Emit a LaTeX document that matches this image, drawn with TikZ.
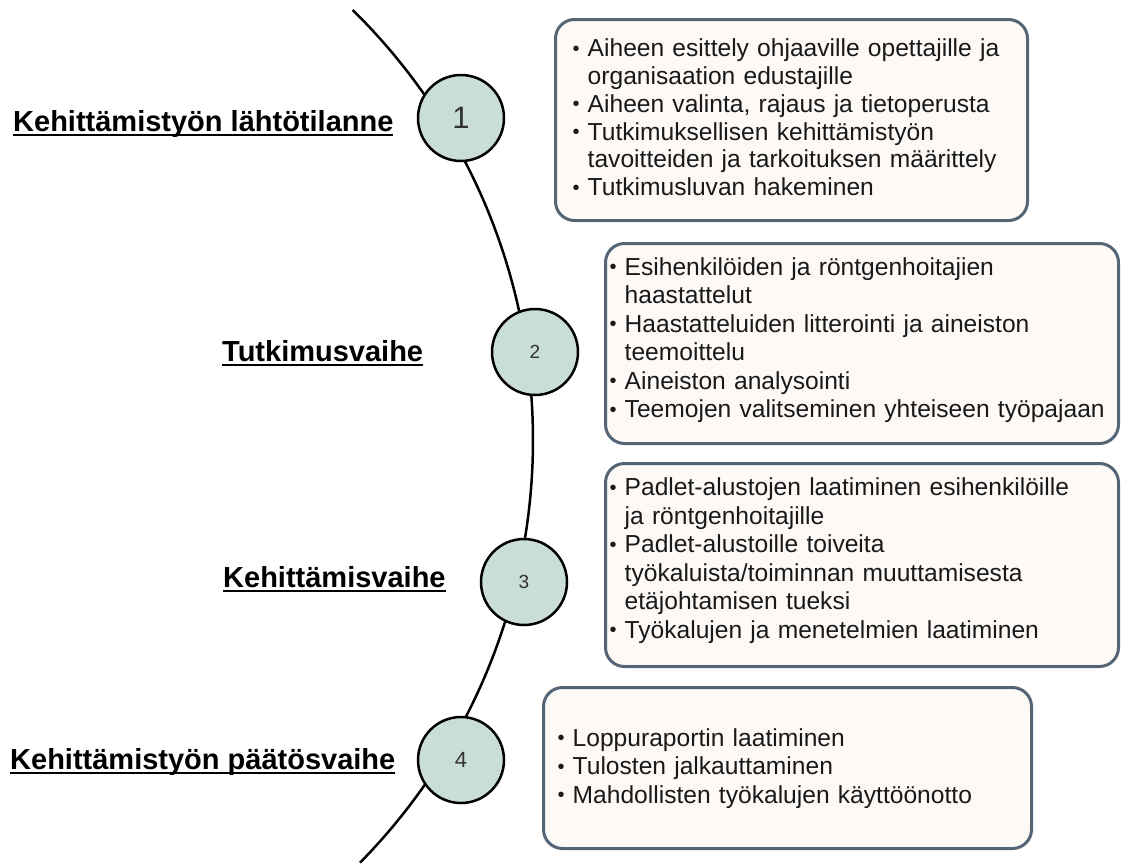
\documentclass[tikz,border=0pt]{standalone}
\usepackage{fontspec}
\setmainfont{Liberation Sans}
\usepackage{tikz}
\usetikzlibrary{positioning}
\definecolor{reunacol}{RGB}{84,101,118}
\definecolor{laatikkocol}{RGB}{253,249,246}
\definecolor{pallocol}{RGB}{201,222,217}
\definecolor{numcol}{RGB}{50,50,50}
\newcommand{\alle}[1]{\setbox0=\hbox{#1}\rlap{\rule[-5pt]{\wd0}{2.4pt}}\box0}
\newcommand{\kohta}[1]{\par\hangindent=15pt\hangafter=1\noindent\makebox[15pt][l]{\raisebox{1.5pt}{\fontsize{20}{20}\selectfont\textbullet}}#1}

\begin{document}
\begin{tikzpicture}[x=1pt, y=-1pt,
    box/.style={draw=reunacol, line width=3pt, fill=laatikkocol, rounded corners=19pt, anchor=north west, inner sep=0},
    items/.style={anchor=west, inner sep=0, text width=560pt, align=left, text=black!90, font=\fontsize{24.6}{28.5}\selectfont},
    num/.style={circle, draw, line width=2.5pt, fill=pallocol, minimum size=86pt, inner sep=0, text=numcol},
    lbl/.style={anchor=base west, inner sep=0, font=\fontsize{29}{33}\selectfont\bfseries},
]
\useasboundingbox (0,0) rectangle (1126,863);
\coordinate (keski) at (-70,440);
\draw[line width=2.5pt] (keski) ++(45.5:603pt) arc[start angle=45.5, end angle=-44.5, radius=603pt];

\node[num, font=\fontsize{31}{31}\selectfont] (c1) at (461,118) {1};
\node[num, font=\fontsize{19}{19}\selectfont] (c2) at (535,352) {2};
\node[num, font=\fontsize{19}{19}\selectfont] (c3) at (524,582) {3};
\node[num, font=\fontsize{22}{22}\selectfont] (c4) at (461,760) {4};

\node[lbl] (lbl1) at (13,131) {\alle{Kehittämistyön lähtötilanne}};
\node[lbl] (lbl2) at (222,361) {\alle{Tutkimusvaihe}};
\node[lbl] (lbl3) at (223,587) {\alle{Kehittämisvaihe}};
\node[lbl] (lbl4) at (10,769) {\alle{Kehittämistyön päätösvaihe}};

\node[box, minimum width=472pt, minimum height=201pt] (box1) at (554,18) {};
\node[box, minimum width=513pt, minimum height=200pt] (box2) at (604,242) {};
\node[box, minimum width=513pt, minimum height=203pt] (box3) at (604,462) {};
\node[box, minimum width=488pt, minimum height=161pt] (box4) at (542,686) {};

\node[items, font=\fontsize{24.6}{27.8}\selectfont] (items1) at (572.5,112.5) {%
  \kohta{Aiheen esittely ohjaaville opettajille ja\newline organisaation edustajille}
  \kohta{Aiheen valinta, rajaus ja tietoperusta}
  \kohta{Tutkimuksellisen kehittämistyön\newline tavoitteiden ja tarkoituksen määrittely}
  \kohta{Tutkimusluvan hakeminen}};
\node[items] (items2) at (609.5,335) {%
  \kohta{Esihenkilöiden ja röntgenhoitajien\newline haastattelut}
  \kohta{Haastatteluiden litterointi ja aineiston\newline teemoittelu}
  \kohta{Aineiston analysointi}
  \kohta{Teemojen valitseminen yhteiseen työpajaan}};
\node[items] (items3) at (609.5,555.5) {%
  \kohta{Padlet-alustojen laatiminen esihenkilöille\newline ja röntgenhoitajille}
  \kohta{Padlet-alustoille toiveita\newline työkaluista/toiminnan muuttamisesta\newline etäjohtamisen tueksi}
  \kohta{Työkalujen ja menetelmien laatiminen}};
\node[items] (items4) at (557.5,763) {%
  \kohta{Loppuraportin laatiminen}
  \kohta{Tulosten jalkauttaminen}
  \kohta{Mahdollisten työkalujen käyttöönotto}};
\end{tikzpicture}
\end{document}
